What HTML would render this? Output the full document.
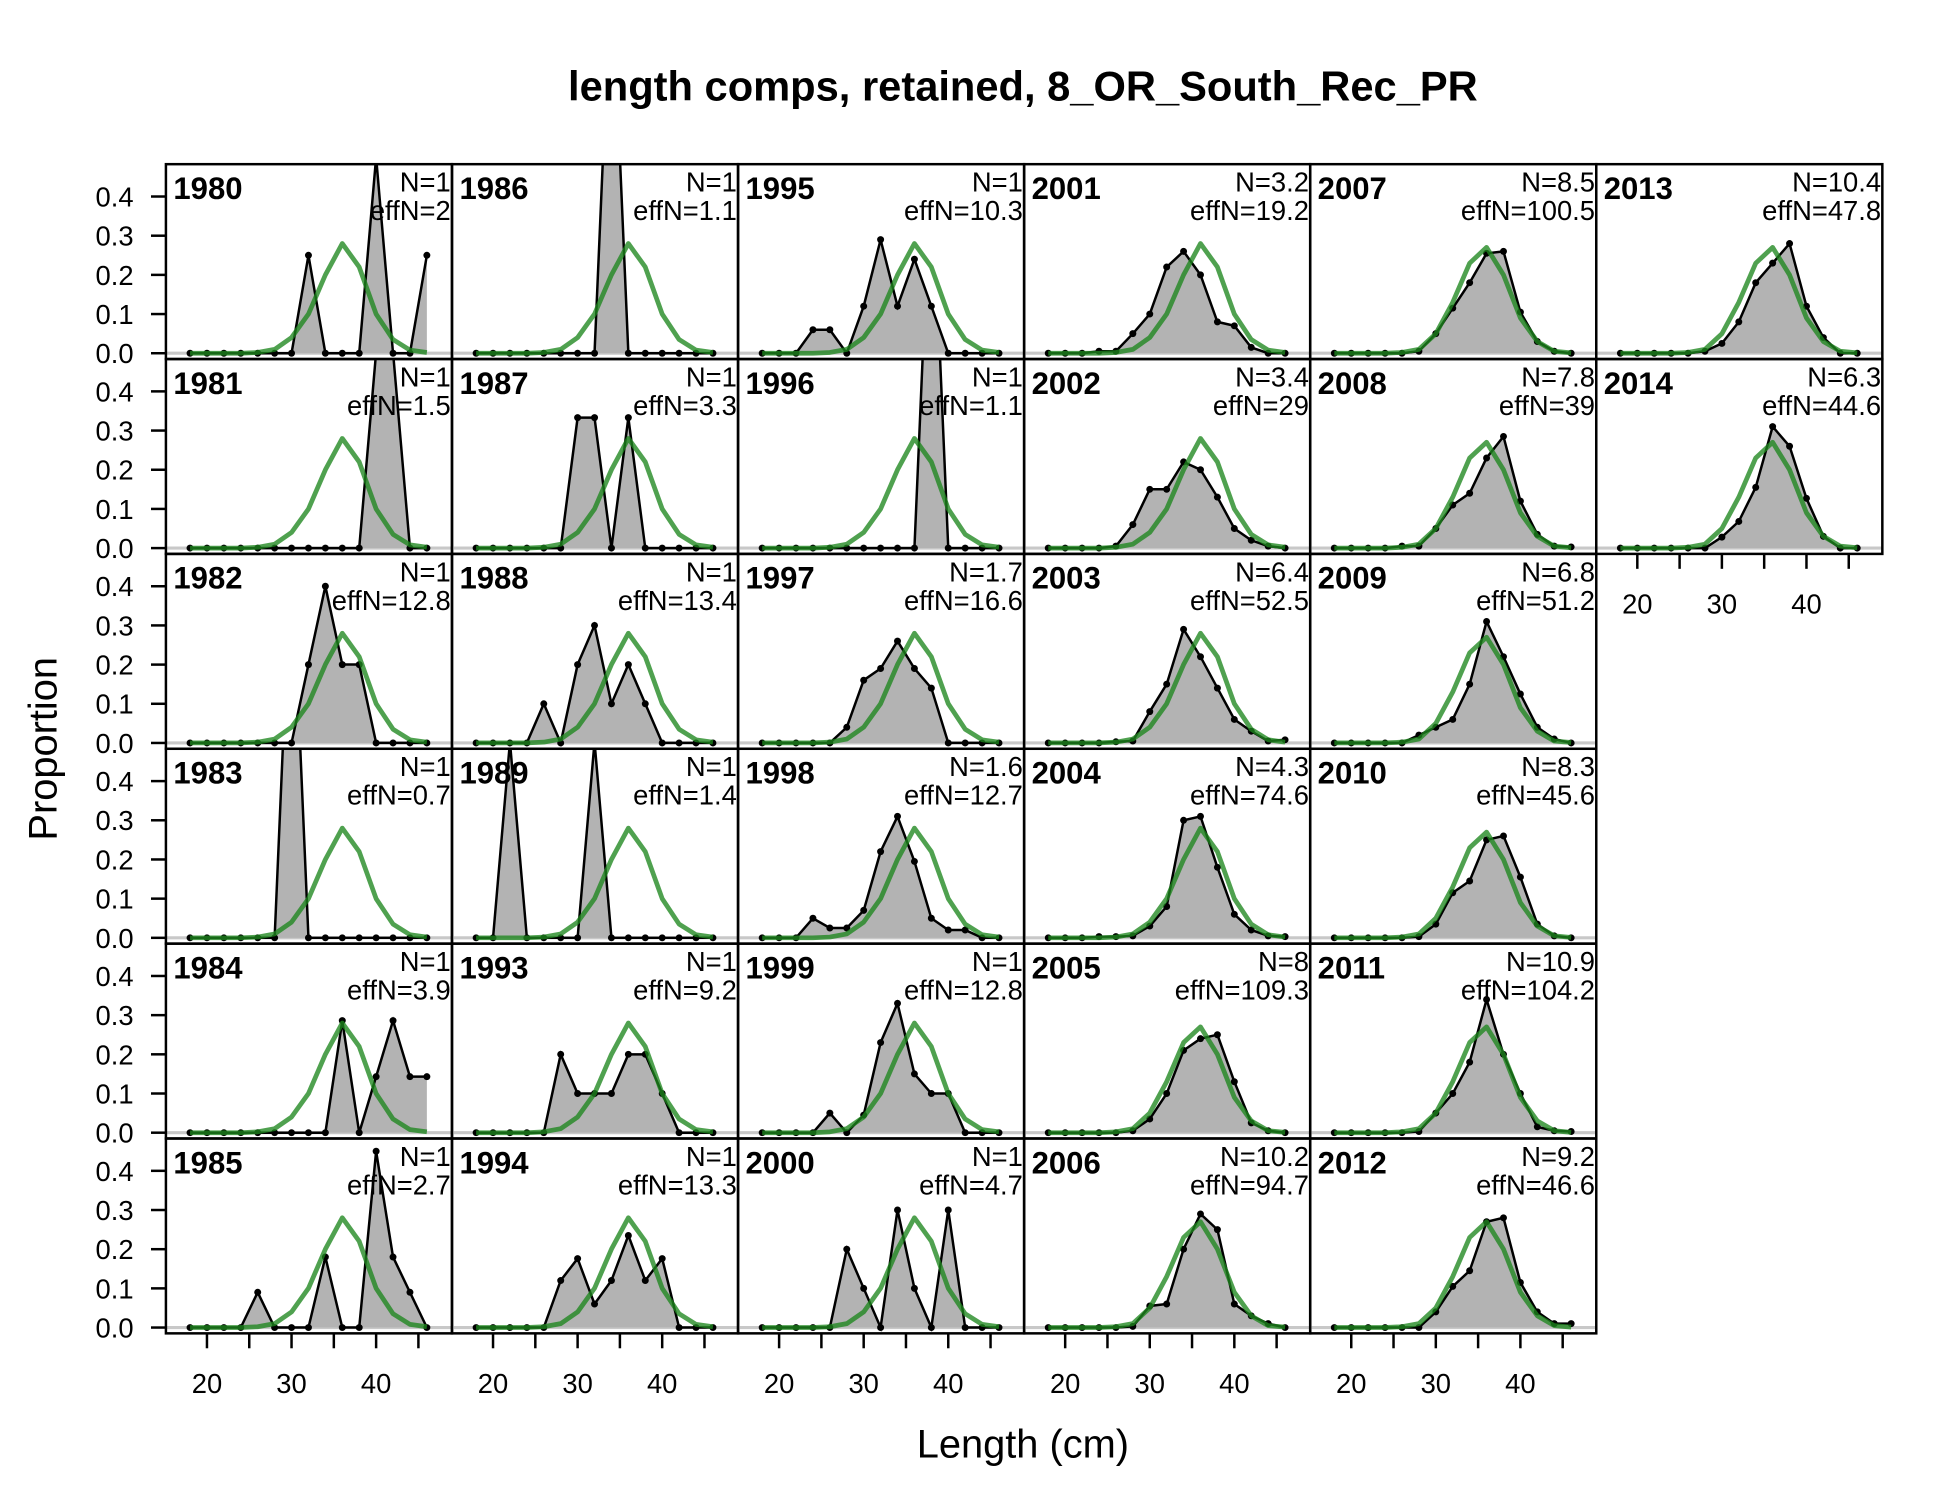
<!DOCTYPE html>
<html><head><meta charset="utf-8"><style>
html,body{margin:0;padding:0;background:#fff;}
svg{display:block;font-family:"Liberation Sans",Arial,sans-serif;}
</style></head><body>
<svg id="chart" width="1950" height="1500" viewBox="0 0 1567 1206" xmlns="http://www.w3.org/2000/svg">
<text x="822" y="81" text-anchor="middle" font-size="33.5" font-weight="bold">length comps, retained, 8_OR_South_Rec_PR</text>
<text transform="translate(45,602) rotate(-90)" text-anchor="middle" font-size="32">Proportion</text>
<text x="822" y="1172" text-anchor="middle" font-size="32">Length (cm)</text>
<g id="panels"></g>
</svg>
<script>
const bins = [18,20,22,24,26,28,30,32,34,36,38,40,42,44,46];
const years = [1980,1981,1982,1983,1984,1985,1986,1987,1988,1989,1993,1994,1995,1996,1997,1998,1999,2000,2001,2002,2003,2004,2005,2006,2007,2008,2009,2010,2011,2012,2013,2014];
const nLabels = ["N=1","N=1","N=1","N=1","N=1","N=1","N=1","N=1","N=1","N=1","N=1","N=1","N=1","N=1","N=1.7","N=1.6","N=1","N=1","N=3.2","N=3.4","N=6.4","N=4.3","N=8","N=10.2","N=8.5","N=7.8","N=6.8","N=8.3","N=10.9","N=9.2","N=10.4","N=6.3"];
const effNLabels = ["effN=2","effN=1.5","effN=12.8","effN=0.7","effN=3.9","effN=2.7","effN=1.1","effN=3.3","effN=13.4","effN=1.4","effN=9.2","effN=13.3","effN=10.3","effN=1.1","effN=16.6","effN=12.7","effN=12.8","effN=4.7","effN=19.2","effN=29","effN=52.5","effN=74.6","effN=109.3","effN=94.7","effN=100.5","effN=39","effN=51.2","effN=45.6","effN=104.2","effN=46.6","effN=47.8","effN=44.6"];
const observed = [
[0,0,0,0,0,0,0,0.25,0,0,0,0.5,0,0,0.25],
[0,0,0,0,0,0,0,0,0,0,0,0.5,0.5,0,0],
[0,0,0,0,0,0,0,0.2,0.4,0.2,0.2,0,0,0,0],
[0,0,0,0,0,0,1,0,0,0,0,0,0,0,0],
[0,0,0,0,0,0,0,0,0,0.286,0,0.143,0.286,0.143,0.143],
[0,0,0,0,0.09,0,0,0,0.18,0,0,0.45,0.18,0.09,0],
[0,0,0,0,0,0,0,0,1,0,0,0,0,0,0],
[0,0,0,0,0,0,0.333,0.333,0,0.333,0,0,0,0,0],
[0,0,0,0,0.1,0,0.2,0.3,0.1,0.2,0.1,0,0,0,0],
[0,0,0.5,0,0,0,0,0.5,0,0,0,0,0,0,0],
[0,0,0,0,0,0.2,0.1,0.1,0.1,0.2,0.2,0.1,0,0,0],
[0,0,0,0,0,0.12,0.176,0.06,0.12,0.235,0.12,0.176,0,0,0],
[0,0,0,0.06,0.06,0,0.12,0.29,0.12,0.24,0.12,0,0,0,0],
[0,0,0,0,0,0,0,0,0,0,1,0,0,0,0],
[0,0,0,0,0,0.04,0.16,0.19,0.26,0.19,0.14,0,0,0,0],
[0,0,0,0.05,0.025,0.025,0.07,0.22,0.31,0.195,0.05,0.02,0.02,0,0],
[0,0,0,0,0.05,0,0.045,0.23,0.33,0.15,0.1,0.1,0,0,0],
[0,0,0,0,0,0.2,0.1,0,0.3,0.1,0,0.3,0,0,0],
[0,0,0,0.005,0.005,0.05,0.1,0.22,0.26,0.2,0.08,0.07,0.015,0,0],
[0,0,0,0,0.005,0.06,0.15,0.15,0.22,0.2,0.13,0.05,0.02,0.005,0],
[0,0,0,0,0.003,0.005,0.08,0.15,0.29,0.22,0.14,0.06,0.03,0.005,0.008],
[0,0,0,0.003,0.003,0.005,0.03,0.08,0.3,0.31,0.18,0.06,0.02,0.005,0.003],
[0,0,0,0,0,0.005,0.035,0.1,0.21,0.24,0.25,0.13,0.025,0.005,0],
[0,0,0,0,0,0.003,0.055,0.06,0.2,0.29,0.25,0.06,0.03,0.01,0],
[0,0,0,0,0,0.005,0.05,0.115,0.18,0.255,0.26,0.105,0.03,0.005,0],
[0,0,0,0,0.005,0.005,0.05,0.11,0.14,0.23,0.285,0.12,0.035,0.005,0.003],
[0,0,0,0,0,0.02,0.04,0.06,0.15,0.31,0.22,0.125,0.04,0.01,0],
[0,0,0,0,0,0.003,0.035,0.115,0.145,0.25,0.26,0.155,0.035,0.005,0],
[0,0,0,0,0,0.003,0.05,0.1,0.18,0.34,0.2,0.1,0.015,0.005,0.003],
[0,0,0,0,0,0,0.04,0.105,0.145,0.27,0.28,0.115,0.04,0.01,0.01],
[0,0,0,0,0,0.005,0.025,0.08,0.18,0.23,0.28,0.12,0.04,0,0],
[0,0,0,0,0,0,0.028,0.068,0.155,0.31,0.26,0.127,0.03,0,0]
];
const expectedEarly = [0,0,0,0,0.002,0.01,0.04,0.1,0.2,0.28,0.22,0.1,0.035,0.008,0.002];
const expectedLate = [0,0,0,0,0.002,0.01,0.05,0.13,0.23,0.27,0.2,0.09,0.03,0.005,0.001];
const yTicks = [0,0.1,0.2,0.3,0.4];
const yTickLabels = ["0.0","0.1","0.2","0.3","0.4"];
const xTicks = [20,25,30,35,40,45];
const xLabelTicks = [20,30,40];

const NS = "http://www.w3.org/2000/svg";
const g = document.getElementById("panels");
const colX = [133,363,593,823,1053,1283];
const PW = 230, PH = 156.67, ROW0 = 132;
function mk(tag, attrs, parent){
  const e = document.createElementNS(NS, tag);
  for (const k in attrs) e.setAttribute(k, attrs[k]);
  (parent||g).appendChild(e);
  return e;
}
function xs(left, L){ return left + 33 + (L - 20) * 6.8; }
function ys(top, p){ return top + 152 - p * 315; }

const defs = mk("defs", {});
years.forEach((yr, i) => {
  let col, row;
  if (i < 30) { col = Math.floor(i / 6); row = i % 6; } else { col = 5; row = i - 30; }
  const left = colX[col], top = ROW0 + row * PH;
  const cp = mk("clipPath", {id: "cp" + i}, defs);
  mk("rect", {x: left, y: top, width: PW, height: PH}, cp);
  const pg = mk("g", {"clip-path": "url(#cp" + i + ")"});
  
  
  const base = mk("line", {x1: left, x2: left + PW, y1: ys(top, 0), y2: ys(top, 0), stroke: "#c8c8c8", "stroke-width": 2.5}, pg);
  
  
  const obs = observed[i];
  let pts = obs.map((v, k) => xs(left, bins[k]).toFixed(1) + "," + ys(top, v).toFixed(1));
  const poly = mk("polygon", {points: xs(left, bins[0]) + "," + ys(top, 0) + " " + pts.join(" ") + " " + xs(left, bins[bins.length - 1]) + "," + ys(top, 0), fill: "#b3b3b3", stroke: "none"}, pg);
  
  
  const line = mk("polyline", {points: pts.join(" "), fill: "none", stroke: "#000", "stroke-width": 2}, pg);
  
  
  obs.forEach((v, k) => {
    const c = mk("circle", {cx: xs(left, bins[k]), cy: ys(top, v), r: 2.8, fill: "#000"}, pg);
    
    
  });
  const exp = yr >= 2005 ? expectedLate : expectedEarly;
  const ep = exp.map((v, k) => xs(left, bins[k]).toFixed(1) + "," + ys(top, v).toFixed(1));
  const gl = mk("polyline", {points: ep.join(" "), fill: "none", stroke: "rgba(30,135,30,0.78)", "stroke-width": 3.8, "stroke-linejoin": "round"}, pg);
  
  
  const fr = mk("rect", {x: left, y: top, width: PW, height: PH, fill: "none", stroke: "#000", "stroke-width": 2});
  
  
  const yt = mk("text", {x: left + 6, y: top + 28, "font-size": 25, "font-weight": "bold"});
  yt.textContent = yr;
  
  
  const nt = mk("text", {x: left + PW - 1, y: top + 22, "font-size": 22, "text-anchor": "end"});
  nt.textContent = nLabels[i];
  
  
  const et = mk("text", {x: left + PW - 1, y: top + 45, "font-size": 22, "text-anchor": "end"});
  et.textContent = effNLabels[i];
  
  
  if (col === 0) {
    yTicks.forEach((t, k) => {
      const tl = mk("line", {x1: left - 12, x2: left, y1: ys(top, t), y2: ys(top, t), stroke: "#000", "stroke-width": 2});
      
      
      const tt = mk("text", {x: 107, y: ys(top, t) + 8, "font-size": 22, "text-anchor": "end"});
      tt.textContent = yTickLabels[k];
      
      
    });
  }
  const isBottom = (i < 30 && row === 5) || (i === 31);
  if (isBottom) {
    const bot = top + PH;
    xTicks.forEach(t => {
      const tl = mk("line", {x1: xs(left, t), x2: xs(left, t), y1: bot, y2: bot + 12, stroke: "#000", "stroke-width": 2});
      
      
    });
    xLabelTicks.forEach(t => {
      const tt = mk("text", {x: xs(left, t), y: bot + 48, "font-size": 22, "text-anchor": "middle"});
      tt.textContent = t;
      
      
    });
  }
});
</script>
</body></html>
